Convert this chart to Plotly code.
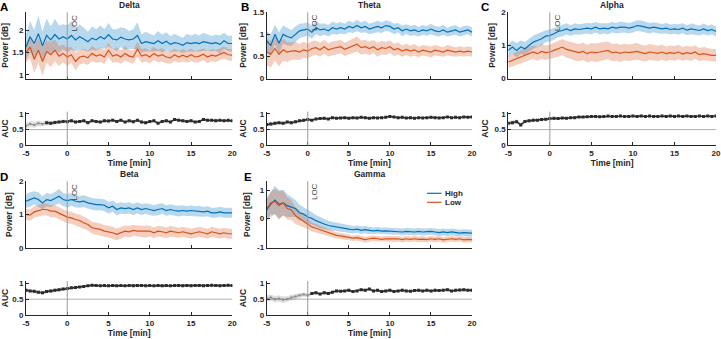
import plotly.graph_objects as go

# ---------------- data ----------------
time = [-5 + 0.5 * i for i in range(51)]
x_tickvals = [-5, 0, 5, 10, 15, 20]
x_ticktext = ["-5", "0", "5", "10", "15", "20"]
auc_ticks = [0, 0.5, 1]
auc_ticktext = ["0", "0.5", "1"]
chance_level = 0.5
loc_time = 0

panel_letters = ["A", "B", "C", "D", "E"]
band_names = ["Delta", "Theta", "Alpha", "Beta", "Gamma"]
series_names = ["High", "Low"]

A_high = [1.62,1.85,1.70,1.92,1.65,1.88,1.78,1.90,1.80,1.85,
          1.80,1.88,1.78,1.85,1.80,1.74,1.82,1.78,1.85,1.80,
          1.90,1.80,1.78,1.84,1.80,1.78,1.80,1.88,1.70,1.74,
          1.72,1.70,1.76,1.70,1.75,1.68,1.72,1.70,1.66,1.72,
          1.70,1.72,1.70,1.74,1.72,1.70,1.72,1.68,1.76,1.70,
          1.70]
A_high_sd = [0.28,0.35,0.30,0.40,0.32,0.38,0.30,0.35,0.30,0.28,
             0.30,0.32,0.26,0.28,0.25,0.22,0.26,0.24,0.25,0.22,
             0.26,0.22,0.24,0.22,0.24,0.20,0.22,0.30,0.20,0.22,
             0.20,0.18,0.22,0.20,0.20,0.18,0.20,0.18,0.17,0.20,
             0.18,0.20,0.18,0.20,0.18,0.17,0.18,0.20,0.18,0.17,
             0.18]
A_low = [1.50,1.62,1.35,1.55,1.30,1.52,1.45,1.55,1.42,1.48,
         1.40,1.45,1.30,1.40,1.42,1.38,1.48,1.42,1.45,1.40,
         1.55,1.42,1.45,1.40,1.48,1.42,1.40,1.58,1.42,1.45,
         1.40,1.48,1.42,1.45,1.40,1.38,1.45,1.40,1.44,1.40,
         1.45,1.40,1.42,1.46,1.40,1.44,1.42,1.46,1.50,1.45,
         1.44]
A_low_sd = [0.22,0.25,0.30,0.28,0.32,0.25,0.28,0.25,0.22,0.20,
            0.20,0.18,0.20,0.17,0.16,0.16,0.17,0.15,0.16,0.15,
            0.17,0.15,0.16,0.15,0.16,0.14,0.15,0.17,0.15,0.15,
            0.14,0.15,0.14,0.15,0.14,0.13,0.14,0.13,0.14,0.13,
            0.14,0.13,0.14,0.13,0.14,0.13,0.14,0.13,0.14,0.13,
            0.13]
A_auc = [0.62,0.68,0.65,0.70,0.68,0.72,0.70,0.73,0.74,0.76,
         0.75,0.78,0.74,0.76,0.78,0.72,0.78,0.76,0.74,0.78,
         0.77,0.80,0.76,0.80,0.74,0.78,0.75,0.80,0.74,0.72,
         0.76,0.78,0.70,0.76,0.78,0.74,0.82,0.80,0.78,0.76,
         0.78,0.74,0.76,0.82,0.80,0.80,0.78,0.80,0.78,0.80,
         0.78]
A_auc_sd = [0.10,0.10,0.09,0.09,0.08,0.08,0.07,0.07,0.06,0.06,
            0.05,0.05,0.05,0.05,0.05,0.05,0.05,0.05,0.05,0.05,
            0.05,0.05,0.05,0.05,0.05,0.05,0.05,0.05,0.05,0.05,
            0.05,0.05,0.05,0.05,0.05,0.05,0.05,0.05,0.05,0.05,
            0.05,0.05,0.05,0.05,0.05,0.05,0.05,0.05,0.05,0.05,
            0.05]

B_high = [0.85,0.75,1.00,0.80,1.00,0.95,0.92,1.00,1.08,1.10,
          1.12,1.05,1.15,1.10,1.12,1.08,1.15,1.12,1.15,1.12,
          1.18,1.15,1.20,1.15,1.18,1.12,1.15,1.18,1.15,1.20,
          1.18,1.12,1.15,1.08,1.12,1.08,1.10,1.06,1.10,1.08,
          1.12,1.08,1.06,1.10,1.05,1.08,1.10,1.05,1.08,1.10,
          1.05]
B_high_sd = [0.22,0.25,0.22,0.25,0.20,0.20,0.18,0.18,0.16,0.15,
             0.15,0.15,0.14,0.14,0.13,0.13,0.14,0.13,0.13,0.12,
             0.13,0.12,0.13,0.12,0.13,0.12,0.12,0.13,0.12,0.12,
             0.12,0.12,0.11,0.12,0.11,0.11,0.12,0.11,0.11,0.11,
             0.12,0.11,0.11,0.11,0.10,0.11,0.11,0.10,0.11,0.10,
             0.10]
B_low = [0.60,0.55,0.68,0.55,0.65,0.60,0.62,0.63,0.60,0.65,
         0.62,0.68,0.70,0.65,0.72,0.65,0.68,0.70,0.72,0.66,
         0.70,0.74,0.78,0.70,0.72,0.68,0.72,0.65,0.70,0.68,
         0.72,0.65,0.68,0.62,0.66,0.62,0.65,0.60,0.64,0.62,
         0.60,0.64,0.62,0.60,0.64,0.62,0.60,0.62,0.60,0.62,
         0.60]
B_low_sd = [0.30,0.30,0.28,0.28,0.25,0.22,0.20,0.20,0.18,0.18,
            0.17,0.17,0.16,0.16,0.16,0.15,0.16,0.16,0.15,0.15,
            0.16,0.16,0.17,0.16,0.16,0.15,0.15,0.16,0.15,0.15,
            0.14,0.14,0.14,0.13,0.13,0.13,0.13,0.12,0.12,0.12,
            0.12,0.12,0.12,0.11,0.12,0.11,0.11,0.11,0.11,0.11,
            0.11]
B_auc = [0.66,0.68,0.70,0.72,0.70,0.74,0.72,0.75,0.78,0.80,
         0.82,0.80,0.84,0.85,0.86,0.84,0.88,0.86,0.87,0.88,
         0.86,0.88,0.87,0.89,0.88,0.86,0.88,0.87,0.88,0.89,
         0.92,0.90,0.88,0.89,0.87,0.88,0.86,0.88,0.87,0.88,
         0.89,0.88,0.87,0.88,0.90,0.88,0.89,0.88,0.90,0.89,
         0.90]
B_auc_sd = [0.07,0.07,0.07,0.06,0.06,0.06,0.06,0.05,0.05,0.05,
            0.04,0.04,0.04,0.04,0.04,0.04,0.04,0.04,0.04,0.04,
            0.04,0.04,0.04,0.04,0.04,0.04,0.04,0.04,0.04,0.04,
            0.03,0.03,0.03,0.03,0.03,0.03,0.03,0.03,0.03,0.03,
            0.03,0.03,0.03,0.03,0.03,0.03,0.03,0.03,0.03,0.03,
            0.03]

C_high = [0.85,0.95,0.85,0.95,0.90,1.00,1.10,1.15,1.20,1.28,
          1.30,1.35,1.42,1.45,1.50,1.45,1.50,1.48,1.50,1.52,
          1.50,1.55,1.50,1.52,1.50,1.55,1.52,1.55,1.55,1.52,
          1.55,1.60,1.58,1.55,1.52,1.55,1.52,1.50,1.52,1.48,
          1.50,1.48,1.52,1.46,1.50,1.48,1.45,1.50,1.45,1.48,
          1.42]
C_high_sd = [0.20,0.20,0.22,0.20,0.20,0.20,0.20,0.20,0.20,0.18,
             0.18,0.18,0.17,0.18,0.17,0.16,0.17,0.16,0.17,0.16,
             0.17,0.16,0.17,0.16,0.17,0.16,0.16,0.17,0.16,0.16,
             0.16,0.16,0.17,0.16,0.16,0.15,0.16,0.15,0.16,0.15,
             0.15,0.16,0.15,0.15,0.16,0.15,0.15,0.16,0.15,0.15,
             0.15]
C_low = [0.50,0.55,0.60,0.65,0.72,0.75,0.80,0.75,0.82,0.78,
         0.80,0.85,0.90,0.95,0.88,0.85,0.80,0.78,0.82,0.75,
         0.80,0.78,0.80,0.82,0.85,0.78,0.80,0.76,0.80,0.78,
         0.80,0.82,0.78,0.75,0.80,0.78,0.76,0.80,0.75,0.78,
         0.76,0.80,0.74,0.78,0.75,0.80,0.72,0.75,0.72,0.70,
         0.70]
C_low_sd = [0.18,0.20,0.20,0.20,0.20,0.20,0.20,0.21,0.22,0.22,
            0.22,0.23,0.24,0.24,0.25,0.25,0.26,0.26,0.26,0.27,
            0.27,0.28,0.28,0.27,0.27,0.26,0.26,0.26,0.25,0.25,
            0.25,0.25,0.24,0.24,0.24,0.23,0.23,0.23,0.22,0.22,
            0.22,0.22,0.21,0.21,0.21,0.20,0.20,0.20,0.20,0.19,
            0.19]
C_auc = [0.70,0.72,0.75,0.65,0.76,0.78,0.80,0.80,0.82,0.83,
         0.85,0.86,0.85,0.87,0.86,0.88,0.88,0.90,0.90,0.91,
         0.92,0.92,0.91,0.92,0.93,0.92,0.92,0.93,0.92,0.92,
         0.93,0.92,0.93,0.92,0.93,0.92,0.92,0.93,0.92,0.93,
         0.92,0.93,0.92,0.93,0.92,0.92,0.93,0.92,0.93,0.92,
         0.93]
C_auc_sd = [0.07,0.07,0.07,0.07,0.06,0.06,0.05,0.05,0.05,0.04,
            0.04,0.04,0.04,0.03,0.03,0.03,0.03,0.03,0.03,0.03,
            0.03,0.03,0.03,0.03,0.03,0.03,0.03,0.03,0.03,0.03,
            0.03,0.03,0.03,0.03,0.03,0.03,0.03,0.03,0.03,0.03,
            0.03,0.03,0.03,0.03,0.03,0.03,0.03,0.03,0.03,0.03,
            0.03]

D_high = [1.40,1.45,1.50,1.45,1.35,1.45,1.42,1.48,1.55,1.45,
          1.42,1.45,1.40,1.38,1.40,1.35,1.32,1.30,1.30,1.28,
          1.20,1.25,1.15,1.20,1.18,1.20,1.15,1.20,1.15,1.18,
          1.15,1.12,1.15,1.18,1.12,1.15,1.12,1.10,1.12,1.10,
          1.12,1.10,1.10,1.08,1.10,1.05,1.05,1.08,1.05,1.05,
          1.05]
D_high_sd = [0.20,0.22,0.20,0.22,0.20,0.20,0.20,0.20,0.22,0.20,
             0.20,0.19,0.19,0.18,0.18,0.18,0.18,0.18,0.17,0.18,
             0.18,0.17,0.18,0.17,0.17,0.17,0.17,0.17,0.17,0.16,
             0.17,0.16,0.17,0.16,0.16,0.16,0.16,0.16,0.16,0.15,
             0.16,0.15,0.16,0.15,0.15,0.15,0.15,0.15,0.15,0.15,
             0.15]
D_low = [1.00,0.98,1.08,1.12,1.15,1.15,1.10,1.10,1.05,0.98,
         0.92,0.90,0.85,0.82,0.75,0.70,0.60,0.58,0.55,0.50,
         0.48,0.45,0.40,0.45,0.50,0.48,0.52,0.50,0.50,0.48,
         0.50,0.45,0.50,0.48,0.45,0.50,0.48,0.45,0.48,0.45,
         0.42,0.45,0.48,0.45,0.42,0.48,0.45,0.42,0.45,0.42,
         0.42]
D_low_sd = [0.16,0.17,0.17,0.18,0.18,0.18,0.18,0.18,0.18,0.18,
            0.18,0.18,0.18,0.18,0.18,0.18,0.18,0.18,0.18,0.18,
            0.18,0.18,0.18,0.17,0.17,0.17,0.17,0.17,0.17,0.17,
            0.16,0.16,0.16,0.16,0.16,0.16,0.16,0.15,0.15,0.15,
            0.15,0.15,0.15,0.15,0.15,0.15,0.15,0.15,0.15,0.15,
            0.15]
D_auc = [0.78,0.76,0.75,0.72,0.70,0.74,0.76,0.78,0.80,0.82,
         0.84,0.86,0.87,0.88,0.90,0.92,0.94,0.93,0.92,0.93,
         0.92,0.93,0.92,0.93,0.92,0.93,0.92,0.93,0.93,0.92,
         0.93,0.92,0.93,0.92,0.93,0.92,0.93,0.93,0.92,0.93,
         0.92,0.93,0.93,0.92,0.93,0.94,0.93,0.92,0.93,0.94,
         0.93]
D_auc_sd = [0.06,0.06,0.06,0.06,0.06,0.06,0.05,0.05,0.05,0.05,
            0.04,0.04,0.04,0.03,0.03,0.03,0.03,0.03,0.03,0.03,
            0.03,0.03,0.03,0.03,0.03,0.03,0.03,0.03,0.03,0.03,
            0.03,0.03,0.03,0.03,0.03,0.03,0.03,0.03,0.03,0.03,
            0.03,0.03,0.03,0.03,0.03,0.03,0.03,0.03,0.03,0.03,
            0.03]

E_high = [0.30,0.50,0.65,0.50,0.55,0.45,0.40,0.35,0.20,0.15,
          0.05,0.00,-0.08,-0.15,-0.20,-0.25,-0.28,-0.30,-0.32,-0.35,
          -0.38,-0.40,-0.38,-0.42,-0.40,-0.42,-0.44,-0.42,-0.45,-0.44,
          -0.45,-0.46,-0.45,-0.48,-0.46,-0.47,-0.48,-0.46,-0.48,-0.47,
          -0.46,-0.48,-0.50,-0.48,-0.50,-0.48,-0.50,-0.52,-0.50,-0.52,
          -0.52]
E_high_sd = [0.40,0.45,0.50,0.50,0.45,0.40,0.35,0.30,0.28,0.25,
             0.25,0.22,0.20,0.20,0.18,0.17,0.16,0.15,0.15,0.14,
             0.14,0.13,0.13,0.13,0.13,0.13,0.12,0.12,0.12,0.12,
             0.12,0.12,0.12,0.12,0.12,0.12,0.12,0.12,0.12,0.12,
             0.12,0.12,0.12,0.12,0.12,0.12,0.12,0.12,0.12,0.12,
             0.12]
E_low = [0.35,0.55,0.60,0.45,0.55,0.35,0.30,0.10,0.00,-0.10,
         -0.20,-0.30,-0.35,-0.40,-0.45,-0.50,-0.55,-0.60,-0.62,-0.65,
         -0.68,-0.70,-0.68,-0.72,-0.75,-0.72,-0.70,-0.72,-0.74,-0.72,
         -0.72,-0.74,-0.72,-0.75,-0.72,-0.74,-0.72,-0.74,-0.73,-0.75,
         -0.72,-0.74,-0.72,-0.76,-0.74,-0.72,-0.74,-0.72,-0.76,-0.74,
         -0.75]
E_low_sd = [0.35,0.40,0.45,0.50,0.45,0.40,0.35,0.30,0.25,0.20,
            0.18,0.16,0.15,0.14,0.13,0.12,0.12,0.11,0.11,0.11,
            0.10,0.10,0.10,0.10,0.10,0.10,0.10,0.10,0.10,0.10,
            0.10,0.10,0.10,0.10,0.10,0.10,0.10,0.10,0.10,0.10,
            0.10,0.10,0.10,0.10,0.10,0.10,0.10,0.10,0.10,0.10,
            0.10]
E_auc = [0.52,0.55,0.50,0.52,0.48,0.50,0.55,0.58,0.62,0.65,
         0.62,0.68,0.70,0.66,0.70,0.68,0.72,0.76,0.75,0.76,
         0.78,0.74,0.76,0.80,0.78,0.82,0.76,0.78,0.74,0.76,
         0.78,0.74,0.76,0.78,0.76,0.75,0.77,0.78,0.76,0.78,
         0.76,0.78,0.77,0.78,0.80,0.76,0.78,0.79,0.80,0.78,
         0.78]
E_auc_sd = [0.10,0.10,0.10,0.10,0.10,0.09,0.09,0.08,0.08,0.07,
            0.06,0.05,0.05,0.05,0.05,0.05,0.05,0.05,0.05,0.05,
            0.05,0.05,0.05,0.05,0.05,0.05,0.05,0.05,0.05,0.05,
            0.05,0.05,0.05,0.05,0.05,0.05,0.05,0.05,0.05,0.05,
            0.05,0.05,0.05,0.05,0.05,0.05,0.05,0.05,0.05,0.05,
            0.05]

# time from which the AUC is significant (drawn in black)
auc_sig_from = [-2.5, -5, -5, -5, 0.5]

power_ticks = [[1, 1.5, 2], [0, 0.5, 1, 1.5], [0, 1, 2], [0, 1, 2], [-1, 0, 1]]
power_ticktext = [["1", "1.5", "2"], ["0", "0.5", "1", "1.5"], ["0", "1", "2"],
                  ["0", "1", "2"], ["-1", "0", "1"]]

highs = [A_high, B_high, C_high, D_high, E_high]
high_sds = [A_high_sd, B_high_sd, C_high_sd, D_high_sd, E_high_sd]
lows = [A_low, B_low, C_low, D_low, E_low]
low_sds = [A_low_sd, B_low_sd, C_low_sd, D_low_sd, E_low_sd]
aucs = [A_auc, B_auc, C_auc, D_auc, E_auc]
auc_sds = [A_auc_sd, B_auc_sd, C_auc_sd, D_auc_sd, E_auc_sd]

# ---------------- layout geometry (pixels) ----------------
W, H = 721, 339
cols = [(26, 232.3), (266.7, 472), (508.3, 716)]
pos = [(0, 0), (1, 0), (2, 0), (0, 1), (1, 1)]
power_rows = [(12.3, 78.5), (181.3, 247.7)]
auc_rows = [(111.7, 145.3), (281.1, 315)]
power_ranges = [[0.92, 2.396], [0, 1.5], [0, 2], [0, 2], [-1.035, 1.31]]
auc_range = [0, 1.07]

FONT = "Liberation Sans, Arial, Helvetica, sans-serif"
INK = "#262626"
BLUE = "#0072BD"
ORANGE = "#D95319"
BLUE_F = "rgba(0,114,189,0.28)"
ORANGE_F = "rgba(217,83,25,0.28)"


def fx(px):
    return px / W


def fy(py):
    return 1 - py / H


def aid(n):
    return "" if n == 1 else str(n)


fig = go.Figure()
layout = dict(
    width=W, height=H, margin=dict(l=0, r=0, t=0, b=0, autoexpand=False),
    paper_bgcolor="white", plot_bgcolor="white", showlegend=False,
    font=dict(family=FONT, size=8, color=INK),
)
shapes = []
annotations = []


def band(x, y, sd, color, xa, ya):
    upper = [a + b for a, b in zip(y, sd)]
    lower = [a - b for a, b in zip(y, sd)]
    return go.Scatter(x=list(x) + list(x)[::-1], y=upper + lower[::-1],
                      fill="toself", fillcolor=color, line=dict(width=0),
                      mode="lines", hoverinfo="skip", xaxis=xa, yaxis=ya,
                      showlegend=False)


for i in range(5):
    c, r = pos[i]
    x0, x1 = cols[c]
    pi = 2 * i + 1
    ai = 2 * i + 2
    xp, yp = "x" + aid(pi), "y" + aid(pi)
    xa, ya = "x" + aid(ai), "y" + aid(ai)

    # power panel
    fig.add_trace(band(time, highs[i], high_sds[i], BLUE_F, xp, yp))
    fig.add_trace(band(time, lows[i], low_sds[i], ORANGE_F, xp, yp))
    fig.add_trace(go.Scatter(x=time, y=highs[i], mode="lines", name=series_names[0],
                             line=dict(color=BLUE, width=1.2), xaxis=xp, yaxis=yp))
    fig.add_trace(go.Scatter(x=time, y=lows[i], mode="lines", name=series_names[1],
                             line=dict(color=ORANGE, width=1.2), xaxis=xp, yaxis=yp))

    # AUC panel
    fig.add_trace(band(time, aucs[i], auc_sds[i], "rgba(0,0,0,0.13)", xa, ya))
    fig.add_trace(go.Scatter(x=time, y=aucs[i], mode="lines+markers",
                             line=dict(color="#8c8c8c", width=1),
                             marker=dict(color="#8c8c8c", size=2, symbol="square"),
                             xaxis=xa, yaxis=ya, showlegend=False))
    sig_t = [t for t in time if t >= auc_sig_from[i]]
    sig_v = [v for t, v in zip(time, aucs[i]) if t >= auc_sig_from[i]]
    fig.add_trace(go.Scatter(x=sig_t, y=sig_v, mode="lines+markers",
                             line=dict(color="#2b2b2b", width=1.4),
                             marker=dict(color="#2b2b2b", size=3, symbol="square"),
                             xaxis=xa, yaxis=ya, showlegend=False))

    common_x = dict(range=[-5, 20], tickvals=x_tickvals, ticktext=x_ticktext,
                    showline=True, linecolor=INK, linewidth=1, ticks="inside",
                    ticklen=3, tickcolor=INK, showgrid=False, zeroline=False,
                    domain=[fx(x0), fx(x1)], automargin=False,
                    tickfont=dict(family=FONT, size=8, color=INK, weight="bold"))
    common_y = dict(showline=True, linecolor=INK, linewidth=1, ticks="inside",
                    ticklen=3, tickcolor=INK, showgrid=False, zeroline=False,
                    automargin=False,
                    tickfont=dict(family=FONT, size=8, color=INK, weight="bold"))

    pr = power_rows[r]
    ar = auc_rows[r]
    layout["xaxis" + aid(pi)] = dict(common_x, anchor=yp, showticklabels=False)
    layout["yaxis" + aid(pi)] = dict(common_y, anchor=xp, range=power_ranges[i],
                                     domain=[fy(pr[1]), fy(pr[0])],
                                     tickvals=power_ticks[i], ticktext=power_ticktext[i],
                                     title=dict(text="Power [dB]", standoff=4,
                                                font=dict(family=FONT, size=8.5, color=INK, weight="bold")))
    layout["xaxis" + aid(ai)] = dict(common_x, anchor=ya,
                                     title=dict(text="Time [min]", standoff=3,
                                                font=dict(family=FONT, size=8.5, color=INK, weight="bold")))
    layout["yaxis" + aid(ai)] = dict(common_y, anchor=xa, range=auc_range,
                                     domain=[fy(ar[1]), fy(ar[0])],
                                     tickvals=auc_ticks, ticktext=auc_ticktext,
                                     title=dict(text="AUC", standoff=4,
                                                font=dict(family=FONT, size=8.5, color=INK, weight="bold")))

    # LOC lines
    for xr, yr in ((xp, yp), (xa, ya)):
        shapes.append(dict(type="line", xref=xr, yref=yr + " domain",
                           x0=loc_time, x1=loc_time, y0=0, y1=1,
                           line=dict(color="#9a9a9a", width=1), layer="above"))
    shapes.append(dict(type="line", xref=xa + " domain", yref=ya,
                       x0=0, x1=1, y0=chance_level, y1=chance_level,
                       line=dict(color="#b0b0b0", width=1), layer="below"))
    annotations.append(dict(text="LOC", xref=xp, yref=yp + " domain", x=loc_time, y=1,
                            xanchor="left", yanchor="top", textangle=-90, xshift=1,
                            showarrow=False, font=dict(family=FONT, size=8, color="#444444")))
    # title
    annotations.append(dict(text=band_names[i], xref="paper", yref="paper",
                            x=fx((x0 + x1) / 2), y=fy(pr[0] - 7), xanchor="center",
                            yanchor="middle", showarrow=False,
                            font=dict(family=FONT, size=8.5, color=INK, weight="bold")))

# panel letters
letter_pos = [(4, 6.8), (244.5, 6.8), (485, 7.3), (4, 177.2), (247.5, 177)]
for L, (lx, ly) in zip(panel_letters, letter_pos):
    annotations.append(dict(text=L, xref="paper", yref="paper", x=fx(lx), y=fy(ly),
                            xanchor="center", yanchor="middle", showarrow=False,
                            font=dict(family=FONT, size=11.5, color="black", weight="bold")))

# legend (in panel E)
leg = [(BLUE, series_names[0], 193.3), (ORANGE, series_names[1], 202.3)]
for col, name, ly in leg:
    shapes.append(dict(type="line", xref="paper", yref="paper",
                       x0=fx(427), x1=fx(441.5), y0=fy(ly), y1=fy(ly),
                       line=dict(color=col, width=1.2)))
    annotations.append(dict(text=name, xref="paper", yref="paper", x=fx(443.5), y=fy(ly),
                            xanchor="left", yanchor="middle", showarrow=False,
                            font=dict(family=FONT, size=8, color=INK, weight="bold")))

layout["shapes"] = shapes
layout["annotations"] = annotations
fig.update_layout(**layout)
fig.write_html("out.html", config={"displayModeBar": False},
               post_script="document.body.style.margin='0';document.body.style.overflow='hidden';")
